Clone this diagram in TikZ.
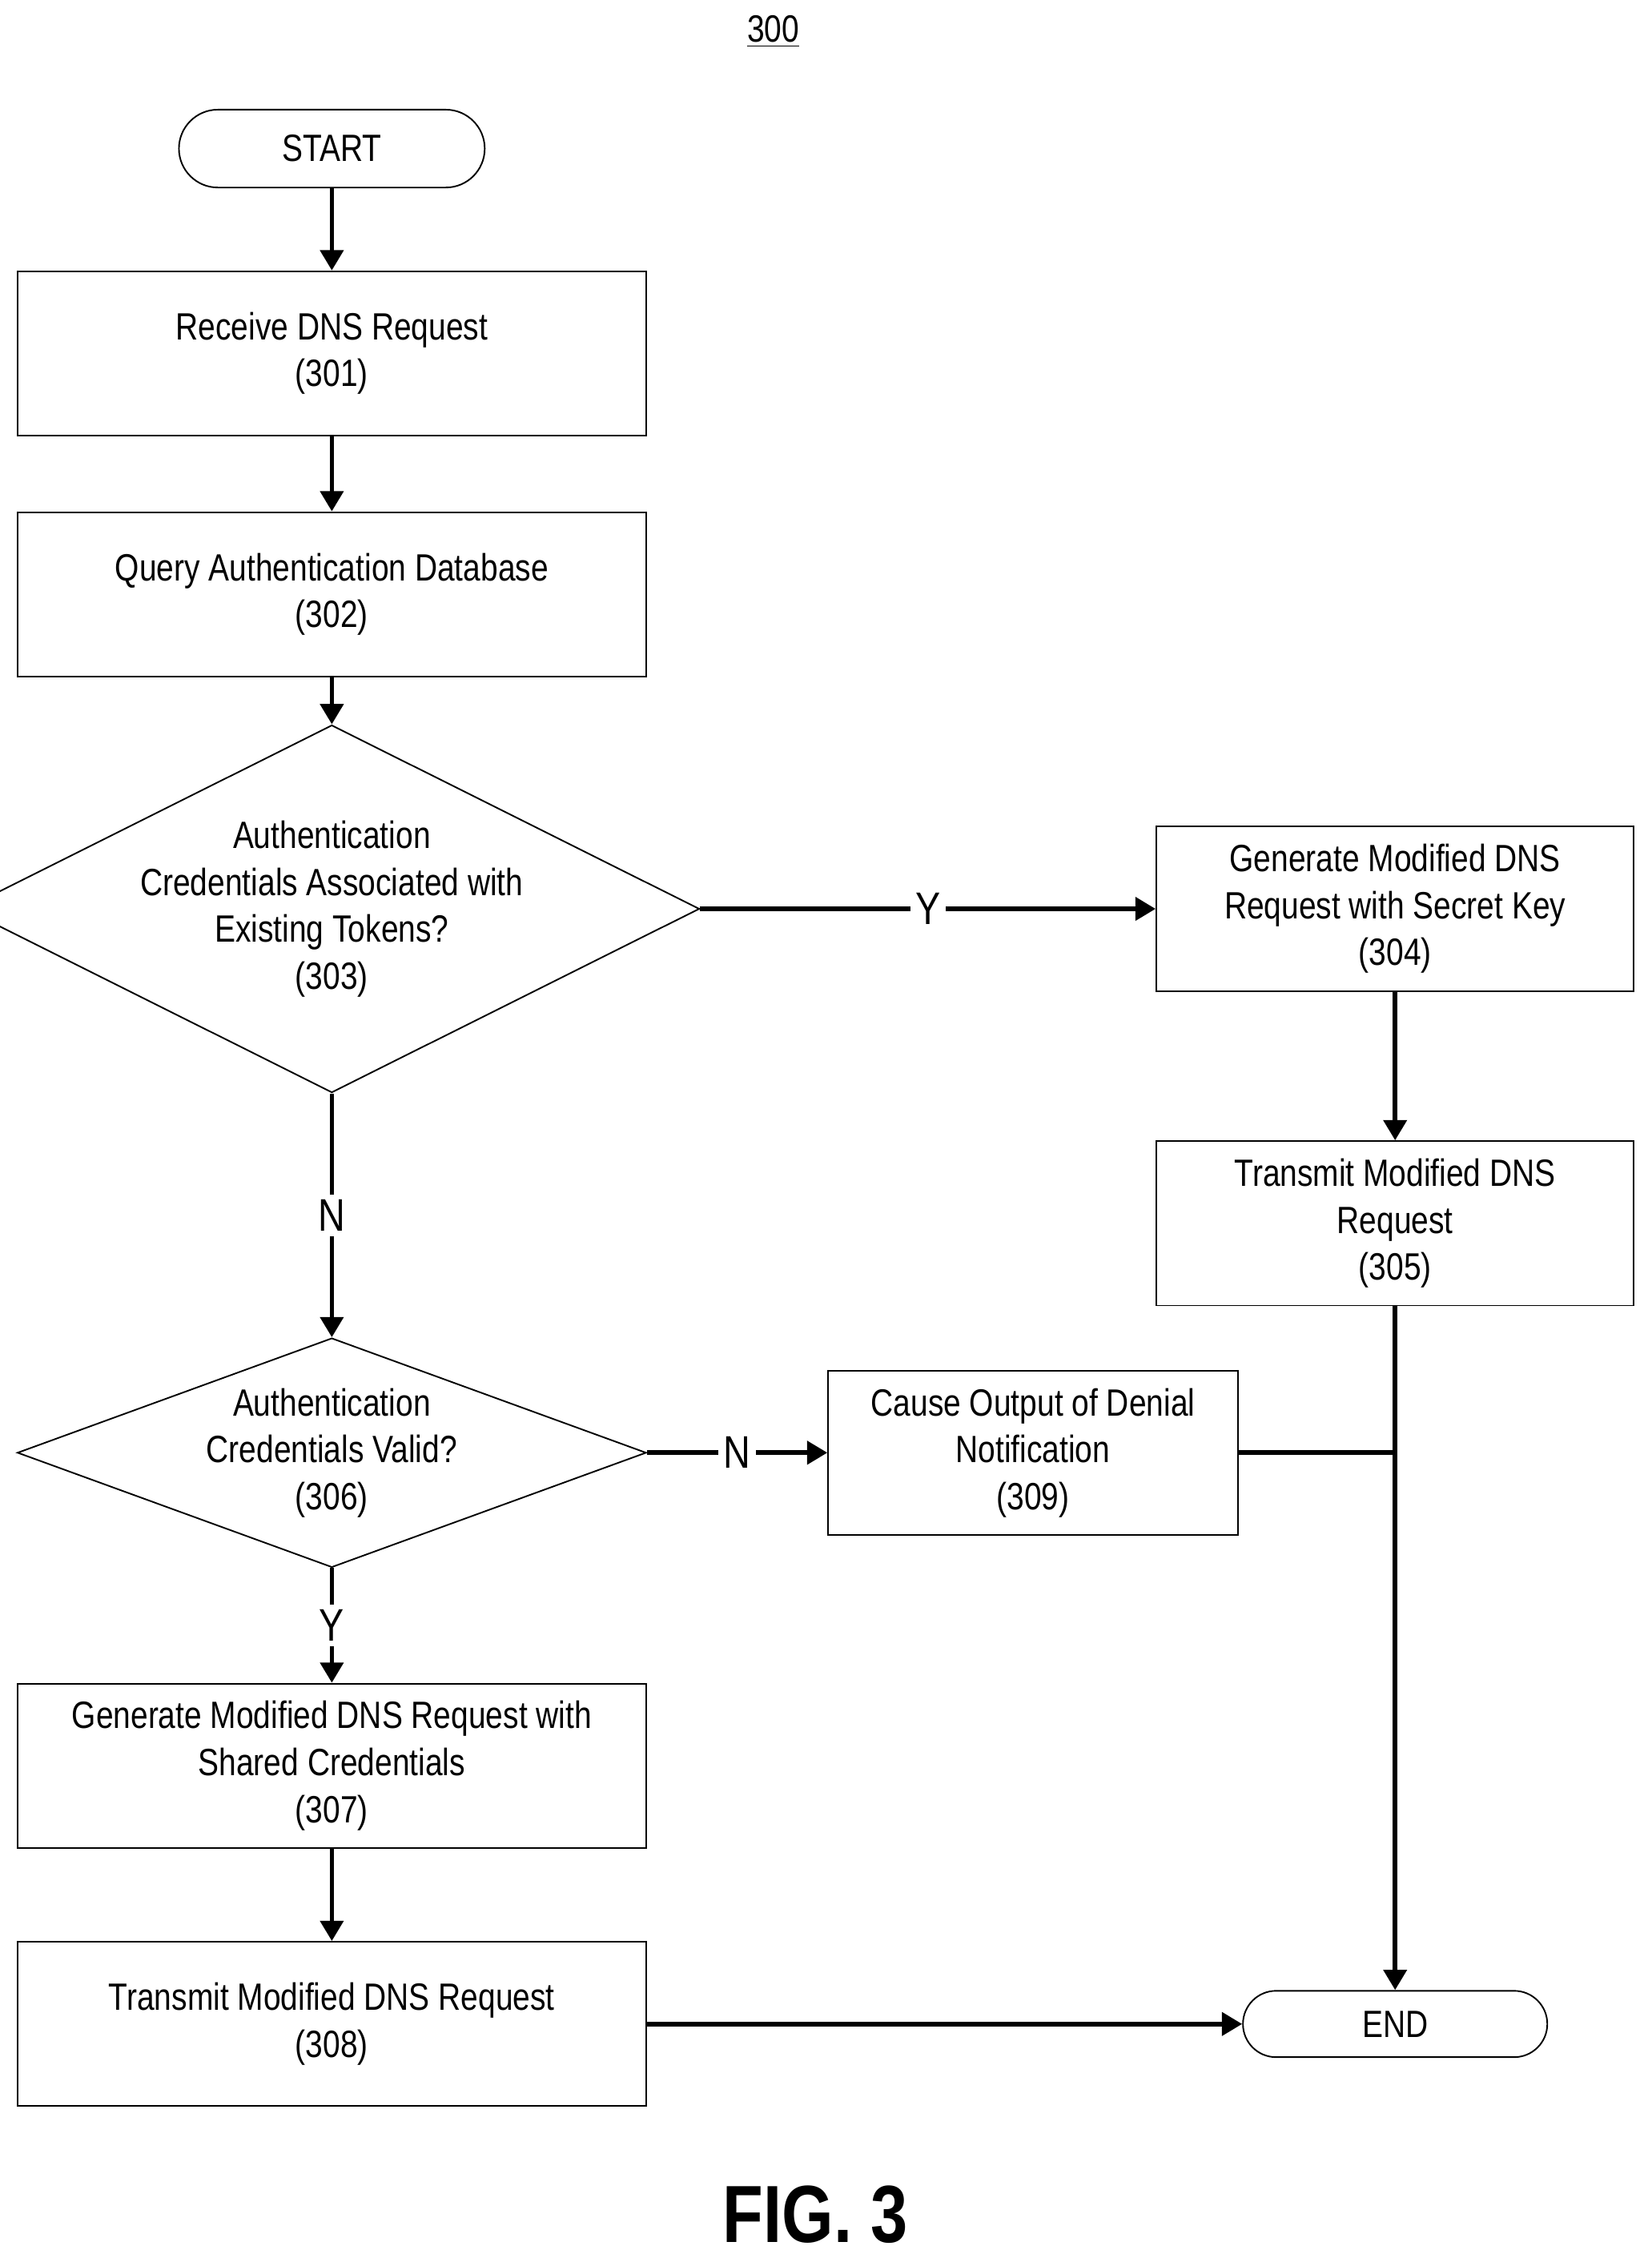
\documentclass[tikz,border=0pt]{standalone}
\usepackage{fontspec}
\setmainfont{Liberation Sans}[FakeStretch=0.82]
\usetikzlibrary{shapes.geometric,arrows.meta}
\begin{document}
\begin{tikzpicture}[
    x=0.02cm, y=-0.02cm,
    font=\fontsize{15}{18.5}\selectfont,
    block/.style={rectangle, draw, line width=0.6pt, minimum width=8.72cm, minimum height=2.28cm, align=center},
    sblock/.style={block, minimum width=6.62cm},
    term/.style={rectangle, rounded corners=0.54cm, draw, line width=0.6pt, minimum width=4.24cm, minimum height=1.08cm},
    decision/.style={diamond, draw, line width=0.6pt, minimum width=8.72cm, align=center, inner sep=0pt},
    arrow/.style={-{Triangle[length=8pt,width=9pt]}, line width=1.8pt},
    lbl/.style={fill=white, inner sep=2pt, font=\fontsize{18}{20}\selectfont}
]
\useasboundingbox (0,0) rectangle (1145,1568);

% Title
\node (num) at (536,22) {\underline{300}};

% Main column
\node[term] (start) at (230,103) {START};
\node[block] (b301) at (230,245) {Receive DNS Request\\(301)};
\node[block] (b302) at (230,412) {Query Authentication Database\\(302)};
\node[decision, minimum height=4.34cm, aspect=2] (d303) at (230,630) {Authentication\\Credentials Associated with\\Existing Tokens?\\(303)};
\node[decision, minimum height=3.18cm, aspect=2.74] (d306) at (230,1007) {Authentication\\Credentials Valid?\\(306)};
\node[block] (b307) at (230,1224) {Generate Modified DNS Request with\\Shared Credentials\\(307)};
\node[block] (b308) at (230,1403) {Transmit Modified DNS Request\\(308)};

% Right column
\node[sblock] (b304) at (967,630) {Generate Modified DNS\\Request with Secret Key\\(304)};
\node[sblock] (b305) at (967,848) {Transmit Modified DNS\\Request\\(305)};
\node[block, minimum width=5.68cm] (b309) at (716,1007) {Cause Output of Denial\\Notification\\(309)};
\node[term, minimum width=4.22cm, minimum height=0.92cm, rounded corners=0.46cm] (end) at (967,1403) {END};
\coordinate (join) at (967,1007);

% Arrows
\draw[arrow] (start) -- (b301);
\draw[arrow] (b301) -- (b302);
\draw[arrow] (b302) -- (d303);
\draw[arrow] (d303) -- node[lbl, pos=0.5] {Y} (b304);
\draw[arrow] (d303) -- node[lbl, pos=0.5] {N} (d306);
\draw[arrow] (b304) -- (b305);
\draw[arrow] (d306) -- node[lbl, pos=0.5] {N} (b309);
\draw[arrow] (d306) -- node[lbl, pos=0.5] {Y} (b307);
\draw[arrow] (b307) -- (b308);
\draw[arrow] (b308) -- (end);
\draw[line width=1.8pt] (b309) -- (join);
\draw[arrow] (b305) -- (end);

% Figure label
\node[font=\bfseries\fontsize{32}{36}\selectfont] (fig) at (565,1535) {FIG. 3};
\end{tikzpicture}
\end{document}
